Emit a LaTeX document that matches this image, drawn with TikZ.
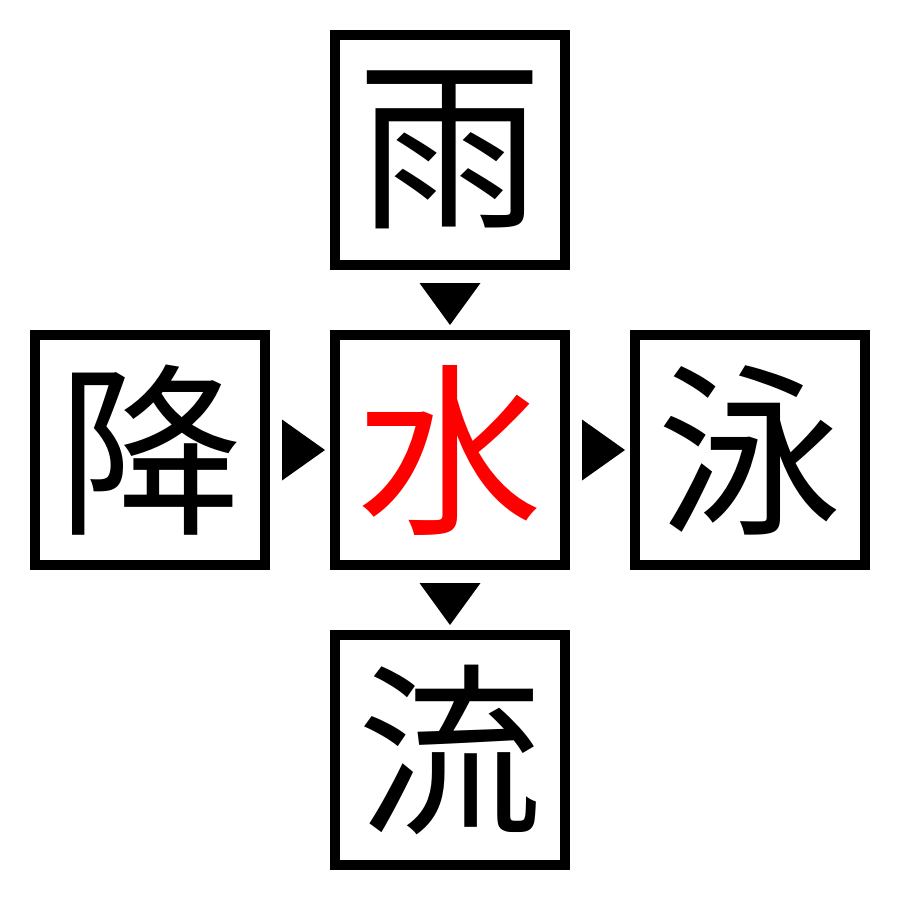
\documentclass[tikz,border=0pt]{standalone}
\usepackage{fontspec}
\usetikzlibrary{calc}
\newfontfamily\cjk{Noto Sans CJK JP}
\begin{document}
\begin{tikzpicture}[x=1pt,y=-1pt,
  charbox/.style={draw=black,line width=10pt,minimum size=230pt,inner sep=0pt,
    font=\cjk\fontsize{185}{185}\selectfont,text=black},
  tri/.style={fill=black,draw=none}]
\useasboundingbox (0,0) rectangle (900,900);
\node[charbox] (top) at (450,150) {雨};
\node[charbox,text=red] (mid) at (450,450) {水};
\node[charbox] (left) at (150,450) {降};
\node[charbox] (right) at (750,450) {泳};
\node[charbox] (bot) at (450,750) {流};
\coordinate (a1) at ($(top.south)!0.5!(mid.north)$);
\coordinate (a2) at ($(left.east)!0.5!(mid.west)$);
\coordinate (a3) at ($(mid.east)!0.5!(right.west)$);
\coordinate (a4) at ($(mid.south)!0.5!(bot.north)$);
\fill[tri] ($(a1)+(-30.5,-17)$) -- ($(a1)+(30.5,-17)$) -- ($(a1)+(0,25)$) -- cycle;
\fill[tri] ($(a2)+(-18,-30.5)$) -- ($(a2)+(-18,30.5)$) -- ($(a2)+(25,0)$) -- cycle;
\fill[tri] ($(a3)+(-18,-30.5)$) -- ($(a3)+(-18,30.5)$) -- ($(a3)+(25,0)$) -- cycle;
\fill[tri] ($(a4)+(-30.5,-17)$) -- ($(a4)+(30.5,-17)$) -- ($(a4)+(0,25)$) -- cycle;
\end{tikzpicture}
\end{document}
